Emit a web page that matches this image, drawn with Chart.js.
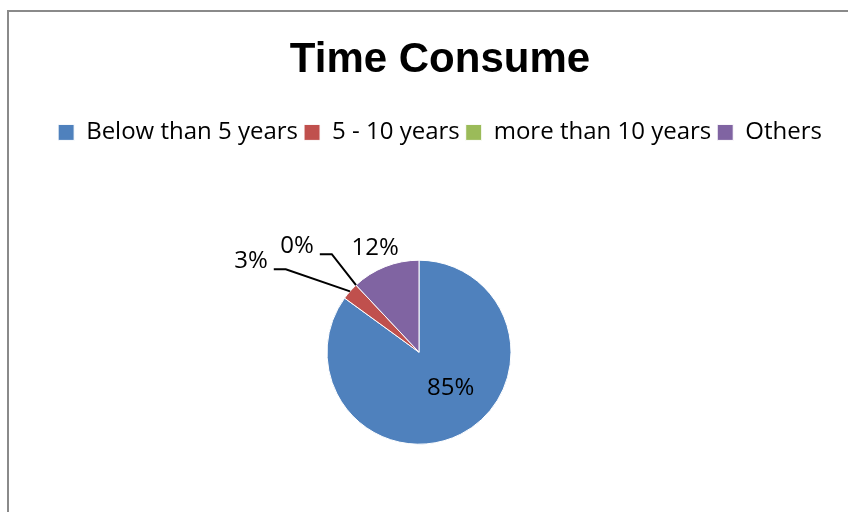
<!DOCTYPE html>
<html>
<head>
<meta charset="utf-8">
<script src="https://cdn.jsdelivr.net/npm/chart.js@4.4.0/dist/chart.umd.min.js"></script>
<style>
  html, body { margin: 0; padding: 0; background: #fff; overflow: hidden; width: 848px; height: 512px; }
  #frame { position: absolute; left: 7px; top: 10px; width: 900px; height: 600px;
           border-left: 2px solid #8a8a8a; border-top: 2px solid #8a8a8a; }
  #chart { position: absolute; left: 8px; top: 10px; }
</style>
</head>
<body>
<div id="frame"></div>
<canvas id="chart" width="864" height="540"></canvas>
<script>
var chartTitle = "Time Consume";
var categories = ["Below than 5 years", "5 - 10 years", "more than 10 years", "Others"];
var shares = [85, 3, 0, 12];
var sliceColors = ["#4F81BD", "#C0504D", "#9BBB59", "#8064A2"];

// percent labels, placed relative to the point where each slice's mid-angle meets the rim
var sliceLabels = {
	id: 'sliceLabels',
	afterDatasetsDraw: function(chart, args, opts) {
		var c = chart.ctx;
		var meta = chart.getDatasetMeta(0);
		var values = chart.data.datasets[0].data;
		var total = 0;
		for (var i = 0; i < values.length; i++) total += values[i];

		c.save();
		c.font = opts.font;
		c.fillStyle = '#000';
		c.strokeStyle = '#000';
		c.lineWidth = opts.lineWidth;
		c.textAlign = 'center';
		c.textBaseline = 'middle';
		meta.data.forEach(function(arc, i) {
			var p = arc.getProps(['x', 'y', 'startAngle', 'endAngle', 'outerRadius'], true);
			var mid = (p.startAngle + p.endAngle) / 2;
			var ex = p.x + Math.cos(mid) * p.outerRadius;
			var ey = p.y + Math.sin(mid) * p.outerRadius;
			var tx = ex + opts.offsets[i][0];
			var ty = ey + opts.offsets[i][1];
			var text = Math.round(values[i] / total * 100) + '%';
			c.fillText(text, tx, ty);
			if (opts.leaders[i]) {
				var right = tx + c.measureText(text).width / 2;
				c.beginPath();
				c.moveTo(right + 6, ty + 8);
				c.lineTo(right + 18, ty + 8);
				c.lineTo(ex, ey);
				c.stroke();
			}
		});
		c.restore();
	}
};

// nudge the plot area sideways so the pie sits left of the title's centre
var plotShift = {
	id: 'plotShift',
	afterLayout: function(chart, args, opts) {
		chart.chartArea.left += opts.dx;
		chart.chartArea.right += opts.dx;
	}
};

var myChart = new Chart(document.getElementById("chart"), {
	type: 'pie',
	data: {
		labels: categories,
		datasets: [{
			data: shares,
			backgroundColor: sliceColors,
			borderColor: '#fff',
			borderWidth: 1
		}]
	},
	plugins: [plotShift, sliceLabels],
	options: {
		responsive: false,
		animation: false,
		events: [],
		radius: 92,
		layout: { padding: 0 },
		plugins: {
			title: {
				display: true,
				text: chartTitle,
				color: '#000',
				font: { family: '"Liberation Sans", Arial, sans-serif', size: 42, weight: 'bold', lineHeight: 1.2 },
				padding: { top: 25, bottom: 29 }
			},
			legend: {
				position: 'top',
				labels: {
					color: '#000',
					font: { family: '"Open Sans", sans-serif', size: 24 },
					boxWidth: 16,
					boxHeight: 16,
					padding: 6
				}
			},
			tooltip: { enabled: false },
			plotShift: { dx: -21 },
			sliceLabels: {
				font: '24px "Open Sans", sans-serif',
				lineWidth: 2,
				offsets: [[-10, -46], [-99, -30], [-59, -39], [-10, -19]],
				leaders: [false, true, true, false]
			}
		}
	}
});
</script>
</body>
</html>
